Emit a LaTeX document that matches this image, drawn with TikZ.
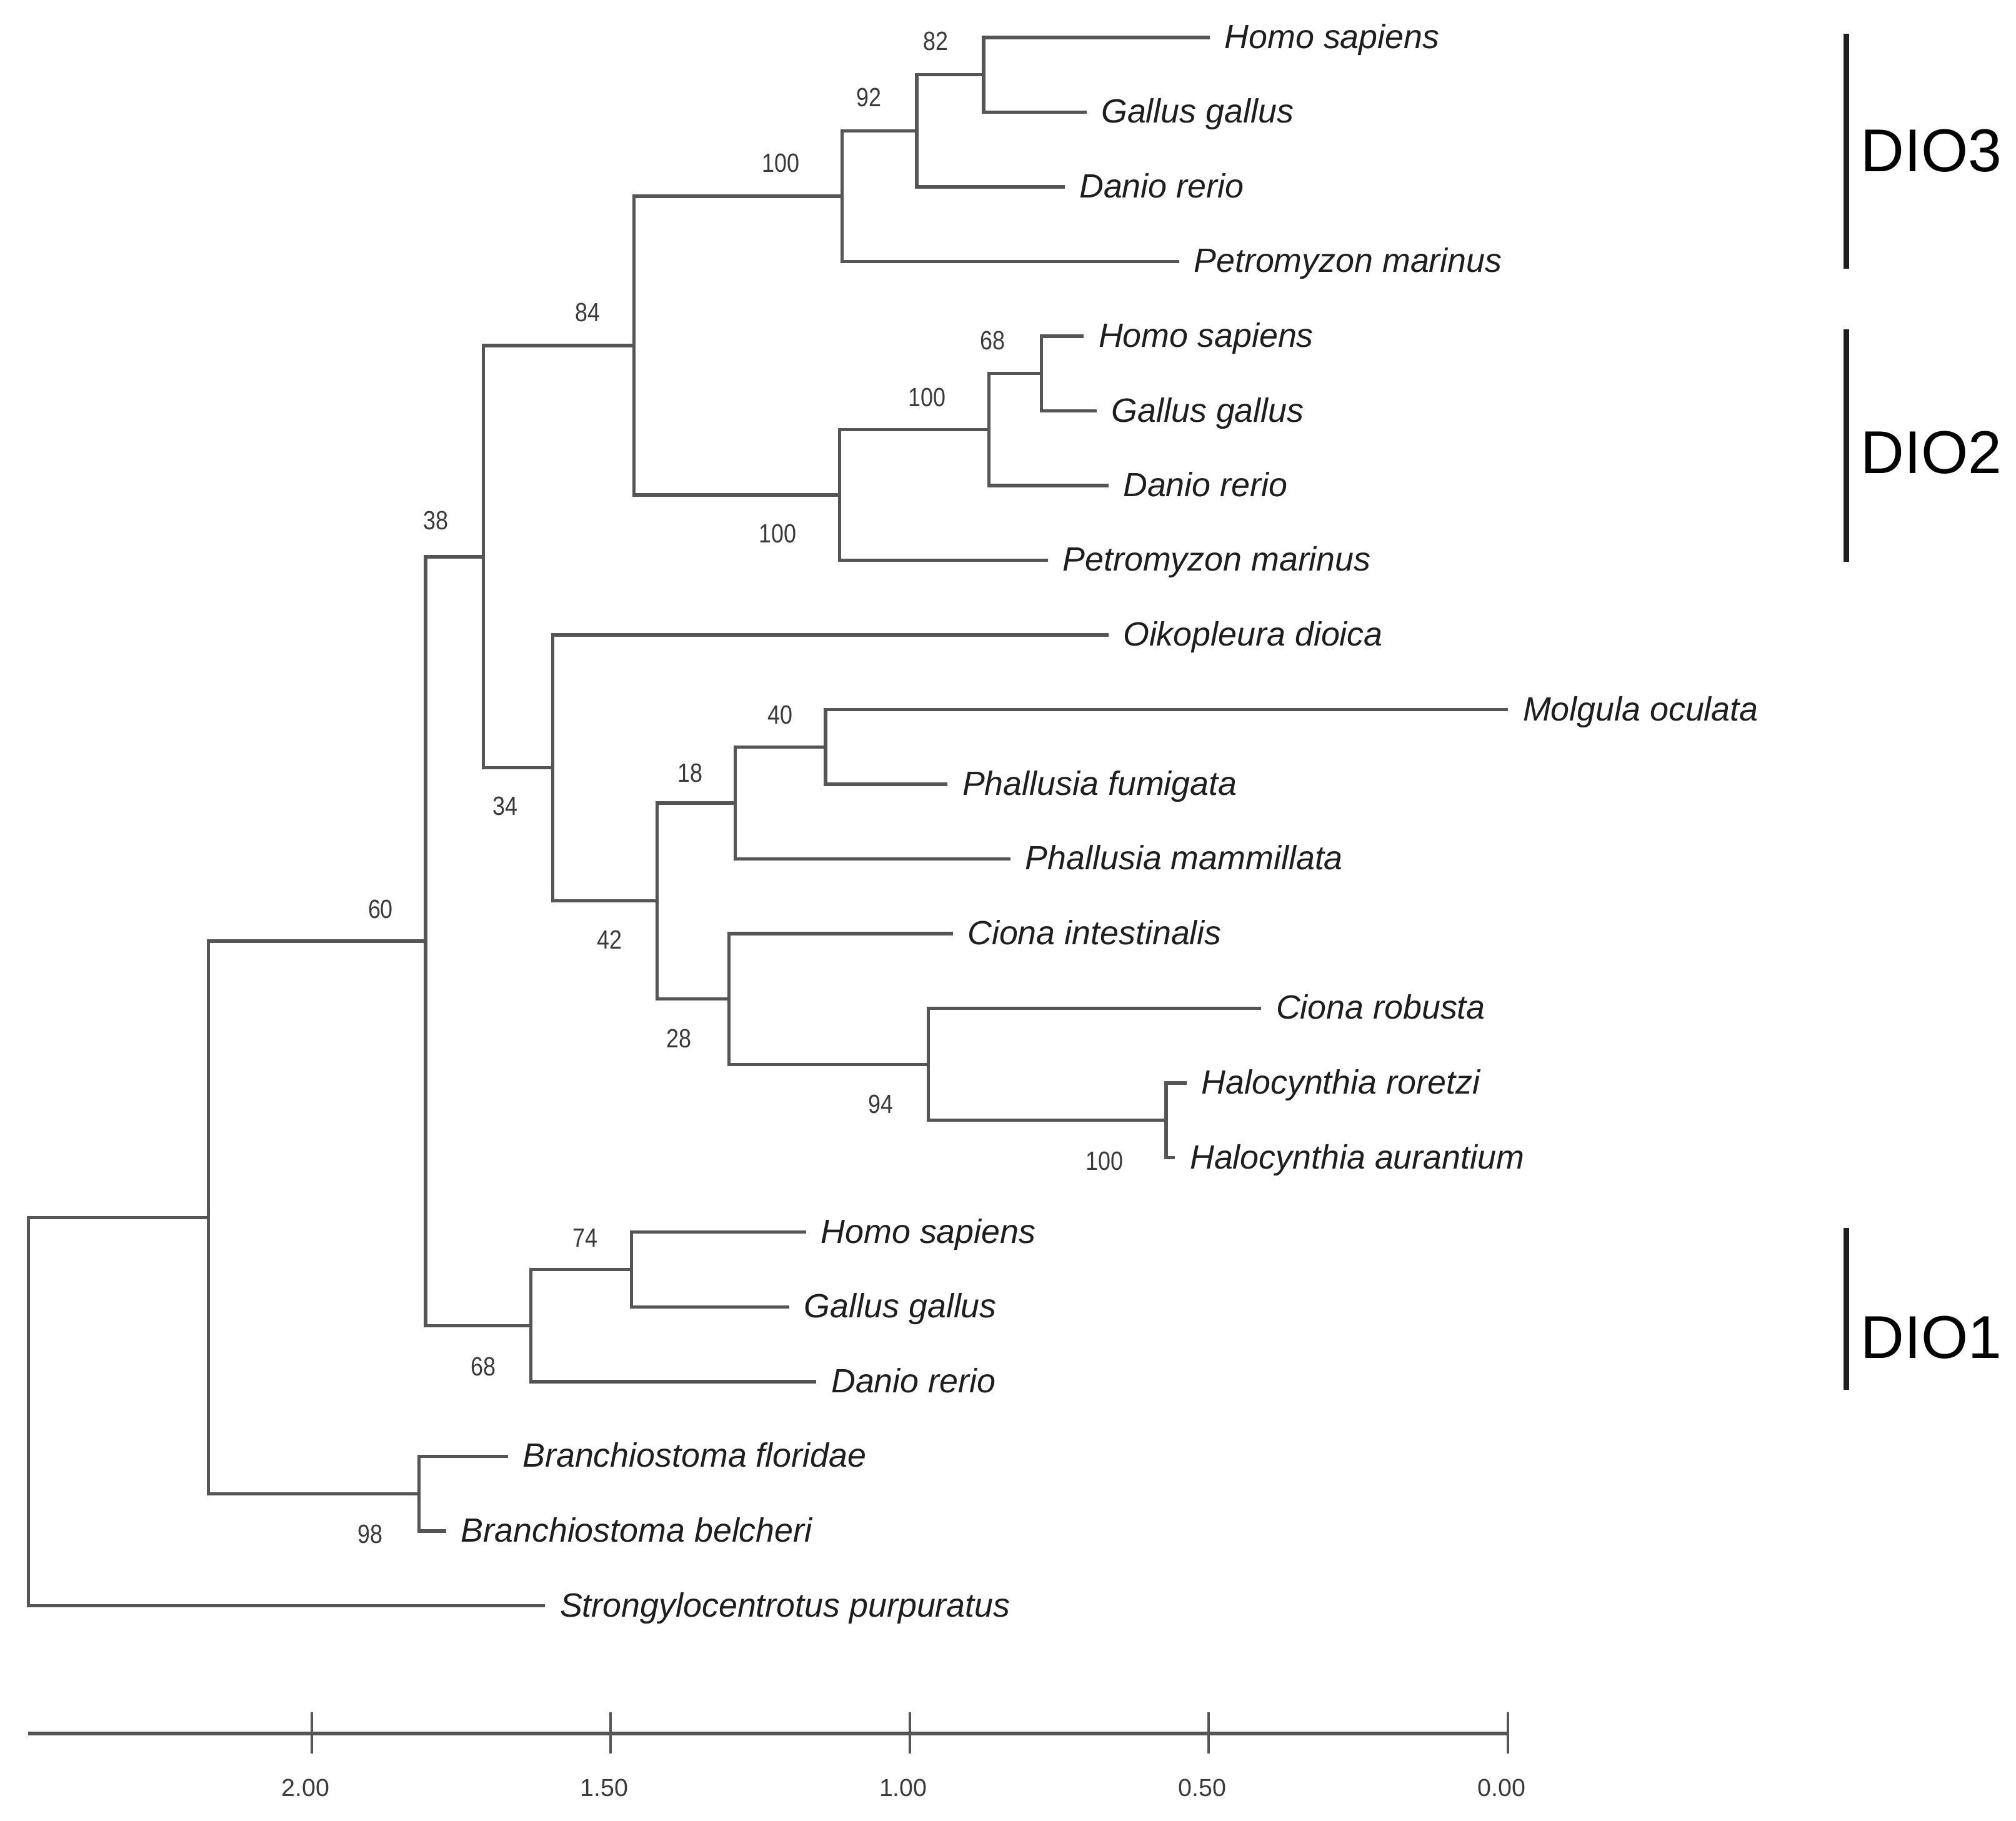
\documentclass[tikz,border=0pt]{standalone}
\usepackage{fontspec}
\setmainfont{Liberation Sans}
\newfontfamily\bsfont[FakeStretch=0.85]{Liberation Sans}
\definecolor{brc}{HTML}{555555}
\definecolor{txt}{HTML}{1E1E1E}
\definecolor{bsc}{HTML}{3A3A3A}
\begin{document}
\begin{tikzpicture}[x=0.020574cm,y=-0.020574cm,
  br/.style={draw=brc,line width=1.5pt},
  taxon/.style={anchor=base west,inner sep=0pt,xshift=0.23cm,yshift=-0.175cm,text=txt,font=\fontsize{15.3}{18}\selectfont\itshape},
  bs/.style={inner sep=0pt,text=bsc,font=\bsfont\fontsize{12}{14}\selectfont},
  grp/.style={anchor=west,inner sep=0pt,text=black,font=\fontsize{27.5}{32}\selectfont},
  gbar/.style={draw=black!88,line width=2.8pt},
  axl/.style={inner sep=0pt,text=bsc,font=\fontsize{11.2}{13}\selectfont}]
\useasboundingbox[fill=white] (0,0) rectangle (1568,1416);

% leaf tips
\coordinate (t1) at (941,29.2);
\coordinate (t2) at (845,87.2);
\coordinate (t3) at (828,145.3);
\coordinate (t4) at (917,203.4);
\coordinate (t5) at (843,261.5);
\coordinate (t6) at (853,319.6);
\coordinate (t7) at (862,377.6);
\coordinate (t8) at (815,435.7);
\coordinate (t9) at (862,493.8);
\coordinate (t10) at (1173,551.9);
\coordinate (t11) at (737,610.0);
\coordinate (t12) at (786,668.0);
\coordinate (t13) at (741,726.1);
\coordinate (t14) at (981,784.2);
\coordinate (t15) at (923,842.3);
\coordinate (t16) at (914,900.4);
\coordinate (t17) at (627,958.4);
\coordinate (t18) at (614,1016.5);
\coordinate (t19) at (635,1074.6);
\coordinate (t20) at (395,1132.7);
\coordinate (t21) at (347,1190.8);
\coordinate (t22) at (424,1248.9);

% internal nodes
\coordinate (n82) at (765,58.2);
\coordinate (n92) at (713,101.75);
\coordinate (n3) at (655,152.6);
\coordinate (n68a) at (810,290.55);
\coordinate (n100b) at (769,334.1);
\coordinate (n2) at (653,384.9);
\coordinate (n84) at (493,268.75);
\coordinate (nG) at (642,580.95);
\coordinate (nF) at (572,624.5);
\coordinate (nJ) at (907,871.35);
\coordinate (nI) at (722,827.8);
\coordinate (nH) at (567,776.95);
\coordinate (nE) at (511,700.7);
\coordinate (nD) at (430,597.25);
\coordinate (nC) at (376,433);
\coordinate (n74) at (491,987.45);
\coordinate (n1) at (413,1031);
\coordinate (nB) at (331,732);
\coordinate (nBr) at (326,1161.75);
\coordinate (nA) at (162,946.9);
\coordinate (root) at (22,1097.9);

% branches
\foreach \p/\c in {n82/t1,n82/t2,n92/n82,n92/t3,n3/n92,n3/t4,
  n68a/t5,n68a/t6,n100b/n68a,n100b/t7,n2/n100b,n2/t8,n84/n3,n84/n2,
  nG/t10,nG/t11,nF/nG,nF/t12,nJ/t15,nJ/t16,nI/t14,nI/nJ,nH/t13,nH/nI,
  nE/nF,nE/nH,nD/t9,nD/nE,nC/n84,nC/nD,n74/t17,n74/t18,n1/n74,n1/t19,
  nB/nC,nB/n1,nBr/t20,nBr/t21,nA/nB,nA/nBr,root/nA,root/t22}
  \draw[br] (\p) |- (\c);

% taxa
\node[taxon] (l1) at (t1) {Homo sapiens};
\node[taxon] (l2) at (t2) {Gallus gallus};
\node[taxon] (l3) at (t3) {Danio rerio};
\node[taxon] (l4) at (t4) {Petromyzon marinus};
\node[taxon] (l5) at (t5) {Homo sapiens};
\node[taxon] (l6) at (t6) {Gallus gallus};
\node[taxon] (l7) at (t7) {Danio rerio};
\node[taxon] (l8) at (t8) {Petromyzon marinus};
\node[taxon] (l9) at (t9) {Oikopleura dioica};
\node[taxon] (l10) at (t10) {Molgula oculata};
\node[taxon] (l11) at (t11) {Phallusia fumigata};
\node[taxon] (l12) at (t12) {Phallusia mammillata};
\node[taxon] (l13) at (t13) {Ciona intestinalis};
\node[taxon] (l14) at (t14) {Ciona robusta};
\node[taxon] (l15) at (t15) {Halocynthia roretzi};
\node[taxon] (l16) at (t16) {Halocynthia aurantium};
\node[taxon] (l17) at (t17) {Homo sapiens};
\node[taxon] (l18) at (t18) {Gallus gallus};
\node[taxon] (l19) at (t19) {Danio rerio};
\node[taxon] (l20) at (t20) {Branchiostoma floridae};
\node[taxon] (l21) at (t21) {Branchiostoma belcheri};
\node[taxon] (l22) at (t22) {Strongylocentrotus purpuratus};

% bootstrap values
\node[bs] (b82) at (728,32) {82};
\node[bs] (b92) at (676,76) {92};
\node[bs] (b100a) at (607.5,127) {100};
\node[bs] (b84) at (457,243) {84};
\node[bs] (b68a) at (772,265) {68};
\node[bs] (b100b) at (721,309) {100};
\node[bs] (b100c) at (605,415) {100};
\node[bs] (b38) at (339,405) {38};
\node[bs] (b34) at (393,627) {34};
\node[bs] (b40) at (607,556) {40};
\node[bs] (b18) at (537,601) {18};
\node[bs] (b42) at (474,731) {42};
\node[bs] (b28) at (528,808) {28};
\node[bs] (b94) at (685,859) {94};
\node[bs] (b100d) at (859,903) {100};
\node[bs] (b60) at (296,707) {60};
\node[bs] (b74) at (455,963) {74};
\node[bs] (b68b) at (376,1063) {68};
\node[bs] (b98) at (288,1193) {98};

% groups
\coordinate (g3a) at (1436,26);
\coordinate (g3b) at (1436,209);
\coordinate (g2a) at (1436,256);
\coordinate (g2b) at (1436,437);
\coordinate (g1a) at (1436,955);
\coordinate (g1b) at (1436,1081);
\draw[gbar] (g3a) -- (g3b);
\draw[gbar] (g2a) -- (g2b);
\draw[gbar] (g1a) -- (g1b);
\node[grp] (dio3) at (1447,117) {DIO3};
\node[grp] (dio2) at (1447,352) {DIO2};
\node[grp] (dio1) at (1447,1040) {DIO1};

% scale axis
\coordinate (ax0) at (22,1348.3);
\coordinate (ax1) at (1173,1348.3);
\draw[br] (ax0) -- (ax1);
\foreach \x/\lab in {242.5/2.00,475/1.50,707.5/1.00,940/0.50,1173/0.00}{
  \draw[draw=brc,line width=1.1pt] (\x,1332) -- (\x,1364);
  \node[axl] at (\x-5,1390.6) {\lab};
}
\end{tikzpicture}
\end{document}
